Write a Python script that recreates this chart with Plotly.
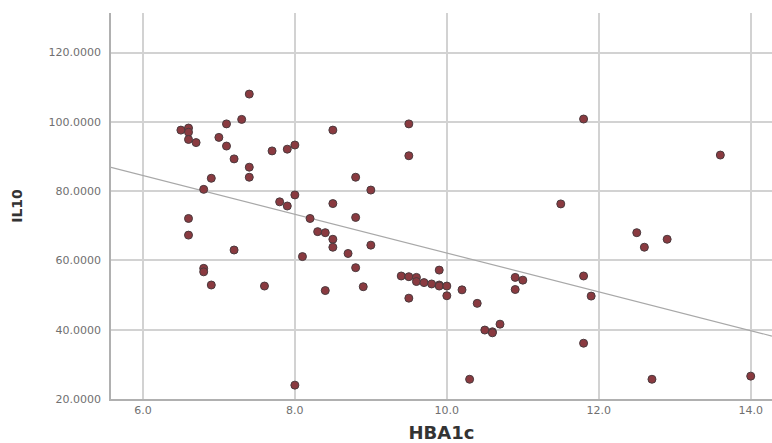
import numpy as np
import plotly.graph_objects as go

hba1c = [6.5, 6.6, 6.6, 6.6, 6.7, 7.0, 7.1, 7.3, 7.4, 7.1, 7.2, 7.4, 7.4, 6.9, 6.8,
         7.7, 7.9, 8.0, 8.0, 7.8, 7.9, 6.6, 6.6, 7.2, 6.8, 6.8, 6.9, 7.6, 8.1,
         8.5, 9.5, 9.5, 8.8, 9.0, 8.5, 8.2, 8.8, 8.3, 8.4, 8.5, 8.5, 9.0, 8.7,
         8.8, 8.9, 8.4, 9.4, 9.5, 9.6, 9.6, 9.7, 9.8, 9.9, 9.9, 10.0, 9.9, 9.5,
         10.0, 10.2, 10.4, 10.9, 11.0, 10.9, 10.7, 10.5, 10.6, 10.6, 11.8, 11.9,
         11.8, 10.3, 12.7, 14.0, 12.5, 12.6, 12.9, 11.8, 13.6, 11.5, 8.0]
il10 = [97.6, 98.2, 97.0, 94.9, 94.0, 95.5, 99.4, 100.7, 108.0, 93.0, 89.3, 86.9, 84.0, 83.7, 80.5,
        91.6, 92.1, 93.3, 78.9, 76.9, 75.7, 72.1, 67.3, 63.0, 57.7, 56.7, 52.9, 52.6, 61.1,
        97.6, 99.4, 90.2, 84.0, 80.3, 76.4, 72.1, 72.4, 68.3, 68.0, 66.1, 63.8, 64.4, 62.0,
        57.9, 52.4, 51.3, 55.5, 55.3, 55.1, 53.9, 53.6, 53.2, 52.9, 52.6, 52.6, 57.2, 49.1,
        49.8, 51.5, 47.6, 55.1, 54.3, 51.6, 41.6, 39.9, 39.4, 39.1, 55.5, 49.7,
        36.1, 25.7, 25.7, 26.6, 68.0, 63.8, 66.1, 100.8, 90.4, 76.3, 24.0]

x_ticks = [6.0, 8.0, 10.0, 12.0, 14.0]
x_tick_labels = ["6.0", "8.0", "10.0", "12.0", "14.0"]
y_ticks = [20, 40, 60, 80, 100, 120]
y_tick_labels = ["20.0000", "40.0000", "60.0000", "80.0000", "100.0000", "120.0000"]

x_range = [5.58, 14.28]
y_range = [20, 131.4]

slope, intercept = np.polyfit(hba1c, il10, 1)
fit_x = np.array(x_range)
fit_y = intercept + slope * fit_x

fig = go.Figure()
fig.add_trace(go.Scatter(
    x=fit_x, y=fit_y, mode="lines",
    line=dict(color="#a8a8a8", width=1.2),
    hoverinfo="skip", showlegend=False))
fig.add_trace(go.Scatter(
    x=hba1c, y=il10, mode="markers",
    marker=dict(size=8, color="#8a3a40", line=dict(color="#4a3a3e", width=1)),
    showlegend=False))

tick_font = dict(family="DejaVu Sans, sans-serif", size=11, color="#707070")
title_font_family = "DejaVu Sans, sans-serif"
fig.update_layout(
    width=772, height=443,
    margin=dict(l=111, r=0, t=13, b=44),
    paper_bgcolor="white", plot_bgcolor="white",
    xaxis=dict(
        range=x_range, tickvals=x_ticks, ticktext=x_tick_labels,
        showgrid=True, gridcolor="#d2d2d2", gridwidth=1.5,
        showline=True, linecolor="#b0b0b0", linewidth=1.5,
        zeroline=False, ticks="", tickfont=tick_font,
        title=dict(text="<b>HBA1c</b>",
                   font=dict(family=title_font_family, size=18, color="#333333"),
                   standoff=10),
    ),
    yaxis=dict(
        range=y_range, tickvals=y_ticks, ticktext=y_tick_labels,
        showgrid=True, gridcolor="#d2d2d2", gridwidth=1.5,
        showline=True, linecolor="#b0b0b0", linewidth=1.5,
        zeroline=False, ticks="", tickfont=tick_font,
        ticklabelstandoff=6,
        title=dict(text="<b>IL10</b>",
                   font=dict(family=title_font_family, size=14, color="#333333"),
                   standoff=23),
    ),
)

fig.write_html("out.html")
